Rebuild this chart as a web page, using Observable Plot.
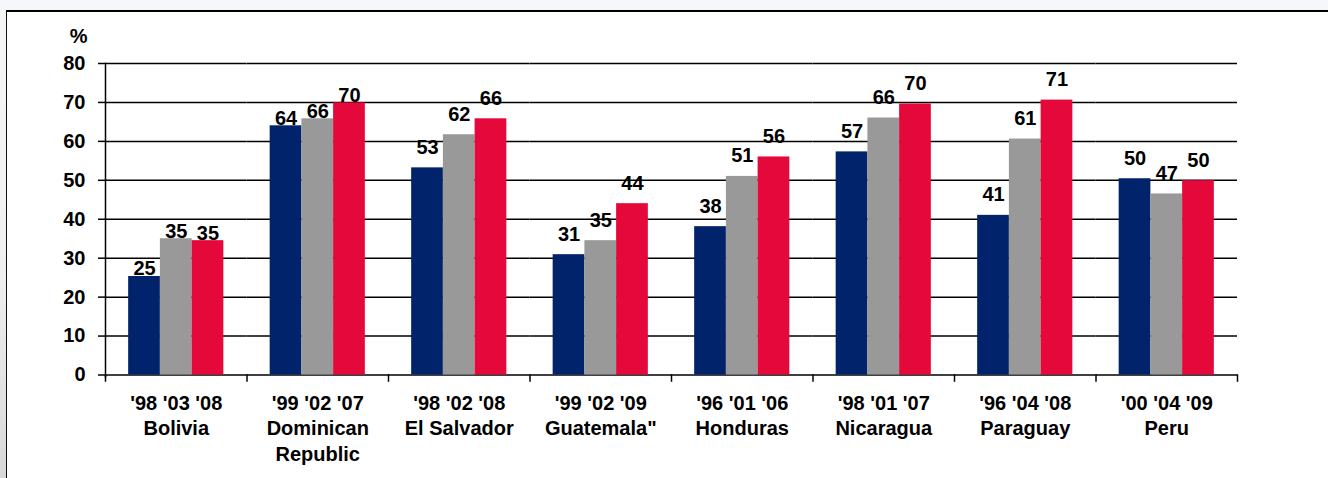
<!DOCTYPE html>
<html>
<head>
<meta charset="utf-8">
<script src="https://cdn.jsdelivr.net/npm/d3@7"></script>
<script src="https://cdn.jsdelivr.net/npm/@observablehq/plot@0.6"></script>
<style>
  html, body { margin: 0; padding: 0; }
  #page { position: relative; width: 1328px; height: 478px; background: #f5f7fb; overflow: hidden; }
  #shade { position: absolute; left: 0; top: 11px; width: 6px; height: 467px;
           background: linear-gradient(#f6f6f6, #efefef 55%, #d8d8d8); }
  #frame { position: absolute; left: 6px; top: 9.5px; right: 0; bottom: 0; background: #fff;
           border-top: 2px solid #000; border-left: 1.5px solid #111; }
  #chart { position: absolute; left: 0; top: 0; width: 1328px; height: 478px; }
</style>
</head>
<body>
<div id="page">
  <div id="shade"></div>
  <div id="frame"></div>
  <div id="chart"></div>
</div>
<script>
const countries = ["Bolivia", "Dominican Republic", "El Salvador", "Guatemala\"", "Honduras", "Nicaragua", "Paraguay", "Peru"];
const countryLabels = ["Bolivia", "Dominican\nRepublic", "El Salvador", "Guatemala\"", "Honduras", "Nicaragua", "Paraguay", "Peru"];
const surveyYears = ["'98 '03 '08", "'99 '02 '07", "'98 '02 '08", "'99 '02 '09", "'96 '01 '06", "'98 '01 '07", "'96 '04 '08", "'00 '04 '09"];
const firstSurvey  = [25.3, 64.0, 53.2, 30.9, 38.1, 57.3, 41.0, 50.4];
const secondSurvey = [35.0, 65.8, 61.7, 34.5, 51.0, 66.0, 60.6, 46.5];
const thirdSurvey  = [34.5, 69.9, 65.8, 44.0, 56.0, 69.6, 70.6, 49.9];
const yTicks = [0, 10, 20, 30, 40, 50, 60, 70, 80];
const seriesColors = ["#00236b", "#999999", "#e4093a"];
const tightLabelCountries = ["Bolivia", "Dominican Republic"];

const rows = countries.flatMap((c, i) =>
  [firstSurvey, secondSurvey, thirdSurvey].map((arr, s) => ({country: c, series: s, value: arr[i]}))
);

const W = 1328, H = 478, mT = 63, mB = 103.5;
const innerH = H - mT - mB;

const chart = Plot.plot({
  width: W,
  height: H,
  marginLeft: 105,
  marginRight: 91,
  marginTop: mT,
  marginBottom: mB,
  style: {background: "transparent", fontFamily: "'Liberation Sans', Arial, sans-serif", fontSize: "20px", fontWeight: "bold", color: "#000"},
  fx: {domain: countries, padding: 0, round: false, axis: null, label: null},
  x: {domain: [0, 1, 2], paddingInner: 0, paddingOuter: 0.73, round: false, axis: null, label: null},
  y: {domain: [0, 80], axis: null, label: null},
  color: {type: "ordinal", domain: [0, 1, 2], range: seriesColors},
  marks: [
    Plot.gridY(yTicks, {stroke: "#000", strokeOpacity: 1, strokeWidth: 1.5}),
    Plot.axisY(yTicks, {label: null, tickSize: 7, tickPadding: 13, strokeWidth: 1.5, fontSize: 20, fontWeight: "bold", fill: "#000"}),
    Plot.barY(rows, {fx: "country", x: "series", y: "value", fill: "series"}),
    Plot.frame({anchor: "left", facetAnchor: "left", stroke: "#000", strokeWidth: 1.5, insetBottom: -2}),
    Plot.frame({anchor: "left", stroke: "#000", strokeWidth: 1.5, insetTop: innerH, insetBottom: -6}),
    Plot.frame({anchor: "right", facetAnchor: "right", stroke: "#000", strokeWidth: 1.5, insetTop: innerH, insetBottom: -6}),
    Plot.text(rows, {
      filter: d => tightLabelCountries.includes(d.country),
      fx: "country", x: "series", y: "value", text: d => Math.round(d.value),
      lineAnchor: "bottom", dy: -1, fontSize: 20, fontWeight: "bold", fill: "#000"
    }),
    Plot.text(rows, {
      filter: d => !tightLabelCountries.includes(d.country),
      fx: "country", x: "series", y: "value", text: d => Math.round(d.value),
      lineAnchor: "bottom", dy: -14, fontSize: 20, fontWeight: "bold", fill: "#000"
    }),
    Plot.text(["%"], {frameAnchor: "top-left", facetAnchor: "left", textAnchor: "end", lineAnchor: "bottom",
      dx: -18, dy: -21, fontSize: 20, fontWeight: "bold", fill: "#000"}),
    Plot.axisFx({
      anchor: "bottom", label: null, tickSize: 0, tickPadding: 17, lineHeight: 1.27, fontSize: 20, fontWeight: "bold", fill: "#000",
      tickFormat: c => surveyYears[countries.indexOf(c)] + "\n" + countryLabels[countries.indexOf(c)]
    })
  ]
});
document.getElementById("chart").appendChild(chart);
</script>
</body>
</html>
